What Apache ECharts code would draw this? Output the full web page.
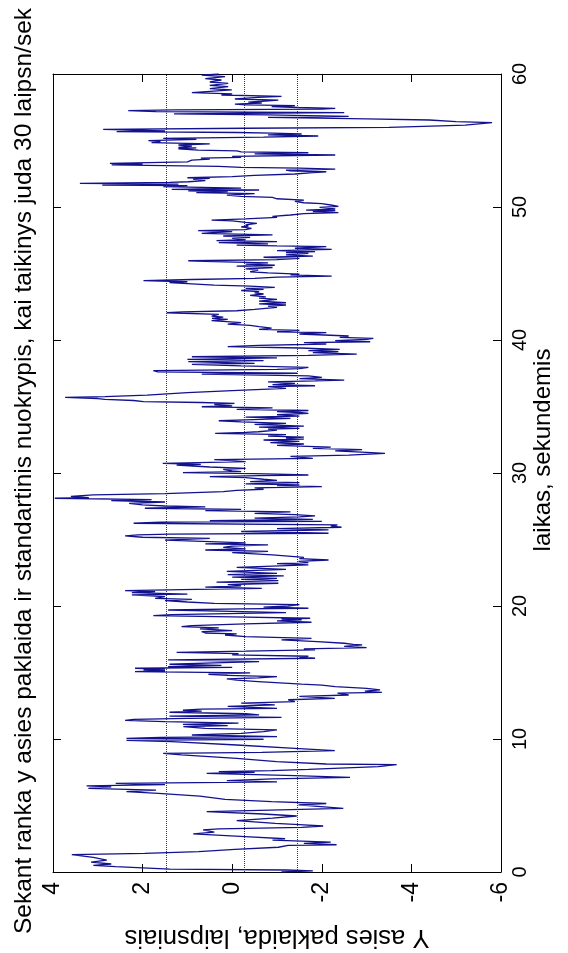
<!DOCTYPE html>
<html>
<head>
<meta charset="utf-8">
<script src="https://cdn.jsdelivr.net/npm/echarts@6/dist/echarts.min.js"></script>
<style>
html,body{margin:0;padding:0;background:#fff;}
#chart{width:568px;height:953px;}
</style>
</head>
<body>
<div id="chart"></div>
<script>
// time (s) of each sample
const timeSec = [
0.00,0.08,0.15,0.22,0.40,0.50,0.60,0.75,0.90,1.10,1.30,1.40,1.53,1.70,1.86,2.00,2.05,2.15,2.25,2.40,2.50,2.66,2.86,3.00,3.16,3.25,3.36,3.46,3.55,3.66,3.86,4.05,4.21,4.36,4.54,4.79,5.04,5.15,5.29,5.46,5.71,5.91,6.04,6.15,6.29,6.40,6.47,6.57,6.67,6.77,6.87,7.00,7.12,7.25,7.42,7.50,7.55,7.62,7.72,7.92,8.07,8.12,8.30,8.55,8.80,8.92,9.00,9.12,9.30,9.55,9.80,9.90,
9.98,10.05,10.12,10.18,10.30,10.43,10.55,10.68,10.80,10.93,11.00,11.10,11.20,11.30,11.35,11.40,11.48,11.55,11.63,11.72,11.81,11.90,12.01,12.10,12.16,12.25,12.31,12.45,12.56,12.70,12.81,12.95,13.06,13.20,13.31,13.45,13.51,13.60,13.69,13.80,13.94,14.05,14.12,14.32,14.42,14.52,14.60,14.69,14.78,14.87,14.97,15.07,15.13,15.19,15.25,15.32,15.38,15.44,15.53,15.62,15.72,15.82,15.95,16.07,16.15,16.22,16.32,16.42,16.52,16.60,16.70,16.78,16.87,16.97,17.07,17.12,17.20,17.32,17.45,17.57,17.70,17.82,17.90,17.97,18.07,18.15,18.28,18.35,18.45,18.53,18.65,18.78,18.88,18.95,19.02,19.08,19.18,19.28,19.35,19.42,19.50,19.60,19.70,19.78,19.83,19.92,20.00,
20.10,20.20,20.30,20.40,20.50,20.58,20.70,20.83,20.90,21.01,21.08,21.16,21.25,21.33,21.42,21.51,21.60,21.71,21.80,21.91,22.00,22.08,22.17,22.26,22.36,22.46,22.60,22.76,22.90,23.09,23.18,23.26,23.36,23.46,23.56,23.66,23.84,24.01,24.11,24.21,24.30,24.41,24.50,24.60,24.67,24.75,24.84,24.95,25.09,25.17,25.27,25.35,25.40,25.47,25.60,25.72,25.82,25.92,26.00,26.10,26.22,26.30,26.36,26.42,26.52,26.60,26.70,26.77,26.87,26.97,27.07,27.17,27.26,27.35,27.45,27.52,27.60,27.72,27.82,27.92,28.00,28.10,28.15,28.25,28.35,28.45,28.60,28.70,28.78,28.88,28.98,29.05,29.10,29.18,29.28,29.35,29.45,29.53,29.65,29.73,29.80,29.85,29.95,30.03,30.10,30.15,
30.27,30.35,30.45,30.60,30.65,30.72,30.85,31.00,31.10,31.25,31.35,31.47,31.55,31.67,31.75,31.85,31.95,32.08,32.18,32.28,32.38,32.48,32.55,32.63,32.70,32.78,32.88,32.98,33.05,33.10,33.23,33.30,33.35,33.45,33.53,33.65,33.73,33.85,33.93,34.00,34.10,34.20,34.28,34.38,34.48,34.55,34.61,34.70,34.78,34.90,34.98,35.05,35.15,35.23,35.30,35.36,35.45,35.53,35.60,35.68,35.75,35.86,36.04,36.19,36.36,36.50,36.56,36.65,36.74,36.85,36.92,36.99,37.10,37.19,37.30,37.44,37.50,37.61,
37.70,37.79,37.85,37.94,38.05,38.17,38.25,38.37,38.45,38.54,38.65,38.74,38.85,38.94,39.05,39.12,39.20,39.30,39.40,39.50,39.60,39.70,39.80,39.87,39.95,40.05,40.12,40.20,40.30,40.45,40.55,40.62,40.72,40.80,40.90,41.00,41.10,41.20,41.30,41.45,41.55,41.63,41.72,41.80,41.92,42.05,42.12,42.20,42.30,42.45,42.55,42.63,42.72,42.80,42.92,43.05,43.15,43.25,43.35,43.46,43.55,43.63,43.72,43.80,43.88,43.96,44.05,44.13,44.22,44.31,44.38,44.46,44.55,44.63,44.72,44.81,44.90,44.96,45.05,45.13,
45.26,45.35,45.45,45.55,45.62,45.71,45.80,45.90,45.96,46.05,46.14,46.22,46.31,46.40,46.51,46.58,46.64,46.72,46.81,46.90,47.02,47.08,47.14,47.23,47.32,47.40,47.47,47.55,47.64,47.72,47.82,47.90,48.02,48.10,48.15,48.22,48.30,48.40,48.50,48.57,48.65,48.77,48.85,48.95,49.02,49.10,49.22,49.30,49.40,49.50,49.57,49.65,49.72,49.77,49.85,49.97,50.05,50.15,50.25,50.32,50.42,50.52,50.62,50.72,50.80,50.90,51.00,51.08,51.15,51.22,51.28,51.33,51.42,51.53,51.60,51.65,51.72,51.78,51.85,51.90,51.98,52.08,52.15,52.20,52.28,52.38,52.48,52.58,52.65,52.72,
52.78,52.85,52.92,52.98,53.05,53.16,53.22,53.28,53.40,53.53,53.60,53.67,53.73,53.80,53.91,54.00,54.08,54.15,54.22,54.28,54.38,54.45,54.49,54.58,54.66,54.75,54.84,54.92,54.99,55.08,55.16,55.25,55.34,55.42,55.49,55.55,55.60,55.66,55.72,55.78,55.84,55.92,55.99,56.08,56.16,56.25,56.34,56.42,56.54,56.62,56.74,56.82,56.92,57.00,57.09,57.17,57.24,57.30,57.36,57.42,57.48,57.54,57.62,57.68,57.74,57.82,57.89,57.95,58.04,58.12,58.24,58.32,58.42,58.50,58.60,58.70,58.80,58.90,59.05,59.15,59.30,59.40,59.55,59.65,59.80,59.92,60.00
];
// Y-axis tracking error (degrees) at each sample
const errorDeg = [
-1.10,-1.80,-1.20,1.39,2.60,3.10,2.70,3.15,2.80,3.10,3.58,1.95,0.75,-0.06,-1.03,-1.25,-2.33,-1.60,-2.20,-0.90,-1.18,-0.29,0.87,0.40,0.65,0.30,-1.55,-2.03,-1.60,-0.96,-0.10,-0.90,-1.44,-0.69,0.57,-2.48,-1.48,-2.10,-0.88,0.16,0.72,1.65,2.36,1.70,3.21,2.70,3.25,1.50,2.60,-1.00,0.12,-0.90,-2.63,-1.40,0.57,-0.50,0.30,-0.88,-1.70,-3.26,-3.67,-2.10,-0.99,-0.10,1.13,1.54,-0.66,-2.29,-1.40,-0.10,1.35,2.36,
-0.70,2.36,1.60,-1.00,0.90,-0.20,-0.70,-1.00,0.60,1.09,0.10,1.10,-0.14,1.50,1.87,2.39,2.20,1.00,-1.10,1.40,-0.60,-0.30,1.40,0.68,1.10,0.70,-1.00,0.10,-0.95,-0.20,-1.40,-1.25,-2.29,-1.50,-2.60,-2.35,-3.34,-2.96,-3.30,-3.00,-2.30,-2.00,-1.55,-0.58,-0.10,0.12,-0.58,-1.00,0.10,0.53,-0.40,2.17,1.50,1.98,1.50,2.17,0.00,1.43,0.24,1.40,0.40,-0.60,1.43,-1.85,-1.50,-1.70,0.00,-0.14,1.24,-0.30,-1.85,-1.60,-3.00,-2.50,-2.90,-2.70,-2.50,-1.90,-1.10,-1.77,-0.30,0.16,-0.10,0.60,0.68,0.00,0.72,0.30,1.13,0.90,-0.29,-1.77,-1.00,-1.55,-1.10,-1.74,0.00,1.76,1.35,0.10,-1.20,0.00,1.43,-0.20,-1.70,-0.70,-1.25,
-1.50,0.40,1.00,1.50,0.90,1.72,1.50,2.24,1.00,2.24,1.72,2.39,0.80,-0.66,0.60,-0.20,0.10,-1.03,0.35,-1.03,-0.20,-1.00,0.00,-1.15,0.10,-1.00,0.12,-1.20,-0.10,-1.70,-1.00,-1.70,-1.48,-2.15,-1.50,-1.60,-0.90,0.00,-0.80,0.60,-0.30,0.20,0.00,-0.80,0.60,-0.30,0.50,1.50,0.50,2.00,2.39,2.10,1.40,-2.15,-0.20,-2.15,-1.00,-2.44,-2.20,-2.35,2.20,1.60,-2.00,0.50,-1.80,-0.50,-1.50,-1.85,-1.40,-0.50,-1.30,0.60,-0.20,1.95,0.60,1.50,2.00,2.30,1.50,2.70,1.80,3.96,3.20,3.60,3.10,1.50,0.20,-0.10,-0.70,-0.50,-2.00,-1.00,-1.50,-0.30,-1.50,-0.40,-1.00,-0.70,-0.30,0.50,-0.60,-1.70,-0.50,1.10,-0.20,0.00,
0.20,-0.30,0.50,1.24,0.70,1.55,-0.30,0.40,-1.80,-1.30,-2.60,-3.41,-3.00,-2.30,-2.90,-1.80,-2.20,-1.00,-1.60,-0.85,-1.50,-0.70,-1.60,-1.20,-1.60,-0.80,-1.20,0.38,-0.30,-0.58,-1.00,-0.80,-1.50,-0.60,-1.60,-0.50,-1.20,-0.20,0.30,-0.30,-1.30,-0.30,-1.50,-1.00,-1.70,-1.50,-1.00,-1.70,-0.10,-0.90,0.68,0.00,0.40,-0.05,0.70,1.98,2.20,2.84,3.00,3.73,2.84,1.90,1.00,0.00,-1.20,-0.80,-1.85,-0.90,-1.40,-0.80,-1.85,-2.50,-1.50,-2.00,-1.70,0.68,-1.45,1.66,
1.76,-1.00,-1.50,-1.70,-0.20,0.90,-0.50,0.98,-0.70,1.00,-1.00,0.90,-1.70,-2.78,-1.80,-2.37,-1.70,-2.40,-1.50,0.10,-0.60,-2.10,-1.60,-3.08,-2.30,-3.00,-3.15,-2.40,-2.60,-1.50,-2.10,-1.00,-1.50,-0.60,-0.88,-0.60,-0.40,0.10,-0.20,0.46,0.10,0.45,0.20,0.46,0.30,1.46,1.10,-0.10,-0.50,-1.00,-0.80,-1.20,-0.60,-1.20,-0.60,-1.00,-0.60,-0.75,-0.40,-0.70,-0.50,-0.60,-0.20,-0.70,-0.30,-0.95,-0.40,0.40,0.90,1.40,1.00,1.98,0.90,-0.50,-1.00,-2.22,-1.30,-1.50,-0.80,-0.40,
-0.58,-0.30,-0.90,-0.10,-0.95,-0.30,-0.80,0.40,0.98,-1.00,-1.50,-0.70,-1.80,-1.20,-1.70,-1.20,-1.85,-1.00,-2.22,-1.40,-2.10,-1.00,-0.10,-0.80,0.30,-1.00,0.35,-0.30,0.00,-0.40,0.20,-0.90,0.68,0.30,0.00,0.76,-0.30,-0.43,-0.20,-0.36,-0.30,-0.55,-0.30,0.00,0.46,-0.30,-1.00,-0.90,-1.30,-1.60,-2.37,-1.80,-2.30,-1.65,-2.30,-1.95,-2.37,-2.20,-2.00,-1.60,-1.40,-1.60,-1.00,-0.90,-0.20,0.12,-0.50,0.80,0.10,0.98,-0.60,1.35,-0.20,1.54,1.00,2.90,1.20,3.40,1.40,0.98,0.60,0.87,0.50,1.00,0.00,-0.50,-1.40,-1.80,-2.10,-1.30,
-1.20,-2.30,-1.50,-0.20,0.30,2.69,2.00,2.73,1.00,0.90,0.50,0.70,-0.20,0.00,-2.30,-0.50,-1.70,-0.20,-0.10,0.76,1.20,0.80,1.20,0.90,1.20,0.50,1.80,1.60,1.87,0.80,1.54,-0.70,-1.92,-0.80,-1.55,-0.90,-0.10,2.58,1.50,2.20,2.88,-0.30,-3.50,-4.45,-5.20,-5.50,-5.80,-5.00,-4.40,-3.00,-0.80,-2.60,-0.80,1.30,-2.50,1.70,2.32,1.30,-2.00,-2.30,-1.48,-0.88,-1.40,-0.30,-0.06,-0.66,-0.36,-0.66,-1.03,-0.06,-0.58,-1.10,0.24,0.00,0.90,0.50,0.01,0.50,0.09,0.50,0.09,0.50,0.24,0.60,0.16,0.68,0.30
];
// dotted reference levels (std / mean), degrees
const refLevels = [1.48, -0.27, -1.46];
// tick settings
const valueMin = -6, valueMax = 4, valueStep = 2;
const timeMin = 0, timeMax = 60, timeStep = 10;
const titleText = 'Sekant ranka y asies paklaida ir standartinis nuokrypis, kai taikinys juda 30 laipsn/sek';
const timeName = 'laikas, sekundemis';
const valueName = 'Y asies paklaida, laipsniais';

const points = timeSec.map((t, i) => [errorDeg[i], t]);

const chart = echarts.init(document.getElementById('chart'), null, {renderer: 'canvas', width: 568, height: 953});
const txtFont = '"Liberation Sans", Arial, Helvetica, sans-serif';
const axisCommon = {
  axisLine: {show: true, onZero: false, lineStyle: {color: '#000', width: 1}},
  axisTick: {show: true, inside: true, length: 8, lineStyle: {color: '#000', width: 1}},
  splitLine: {show: false}
};
const grid = {left: 53, top: 74, width: 448, height: 798};
chart.setOption({
  animation: false,
  backgroundColor: '#ffffff',
  grid: grid,
  xAxis: [
    Object.assign({type: 'value', min: valueMin, max: valueMax, interval: valueStep, inverse: true, position: 'bottom',
      axisLabel: {rotate: 90, margin: 10, color: '#000', fontSize: 23, fontFamily: txtFont}}, axisCommon),
    Object.assign({type: 'value', min: valueMin, max: valueMax, interval: valueStep, inverse: true, position: 'top',
      axisLabel: {show: false}}, axisCommon)
  ],
  yAxis: [
    Object.assign({type: 'value', min: timeMin, max: timeMax, interval: timeStep, position: 'right',
      axisLabel: {rotate: 90, margin: 9, color: '#000', fontSize: 20, fontFamily: txtFont}}, axisCommon),
    Object.assign({type: 'value', min: timeMin, max: timeMax, interval: timeStep, position: 'left',
      axisLabel: {show: false}}, axisCommon)
  ],
  series: [{
    type: 'line',
    xAxisIndex: 0, yAxisIndex: 0,
    data: points,
    showSymbol: false,
    symbol: 'none',
    sampling: null,
    lineStyle: {color: '#12128f', width: 1.3},
    markLine: {
      silent: true, symbol: 'none', label: {show: false},
      lineStyle: {type: 'dotted', color: '#333', width: 1},
      data: refLevels.map(v => ({xAxis: v}))
    }
  }],
  graphic: [
    {type: 'text', x: 24, y: 471, rotation: Math.PI / 2,
      style: {text: titleText, font: '24.5px ' + txtFont, fill: '#000', textAlign: 'center', textVerticalAlign: 'middle', align: 'center', verticalAlign: 'middle'}},
    {type: 'text', x: 543, y: 450, rotation: Math.PI / 2,
      style: {text: timeName, font: '24px ' + txtFont, fill: '#000', textAlign: 'center', textVerticalAlign: 'middle', align: 'center', verticalAlign: 'middle'}},
    {type: 'text', x: 277, y: 937, rotation: Math.PI,
      style: {text: valueName, font: '25.5px ' + txtFont, fill: '#000', textAlign: 'center', textVerticalAlign: 'middle', align: 'center', verticalAlign: 'middle'}}
  ]
});
</script>
</body>
</html>
